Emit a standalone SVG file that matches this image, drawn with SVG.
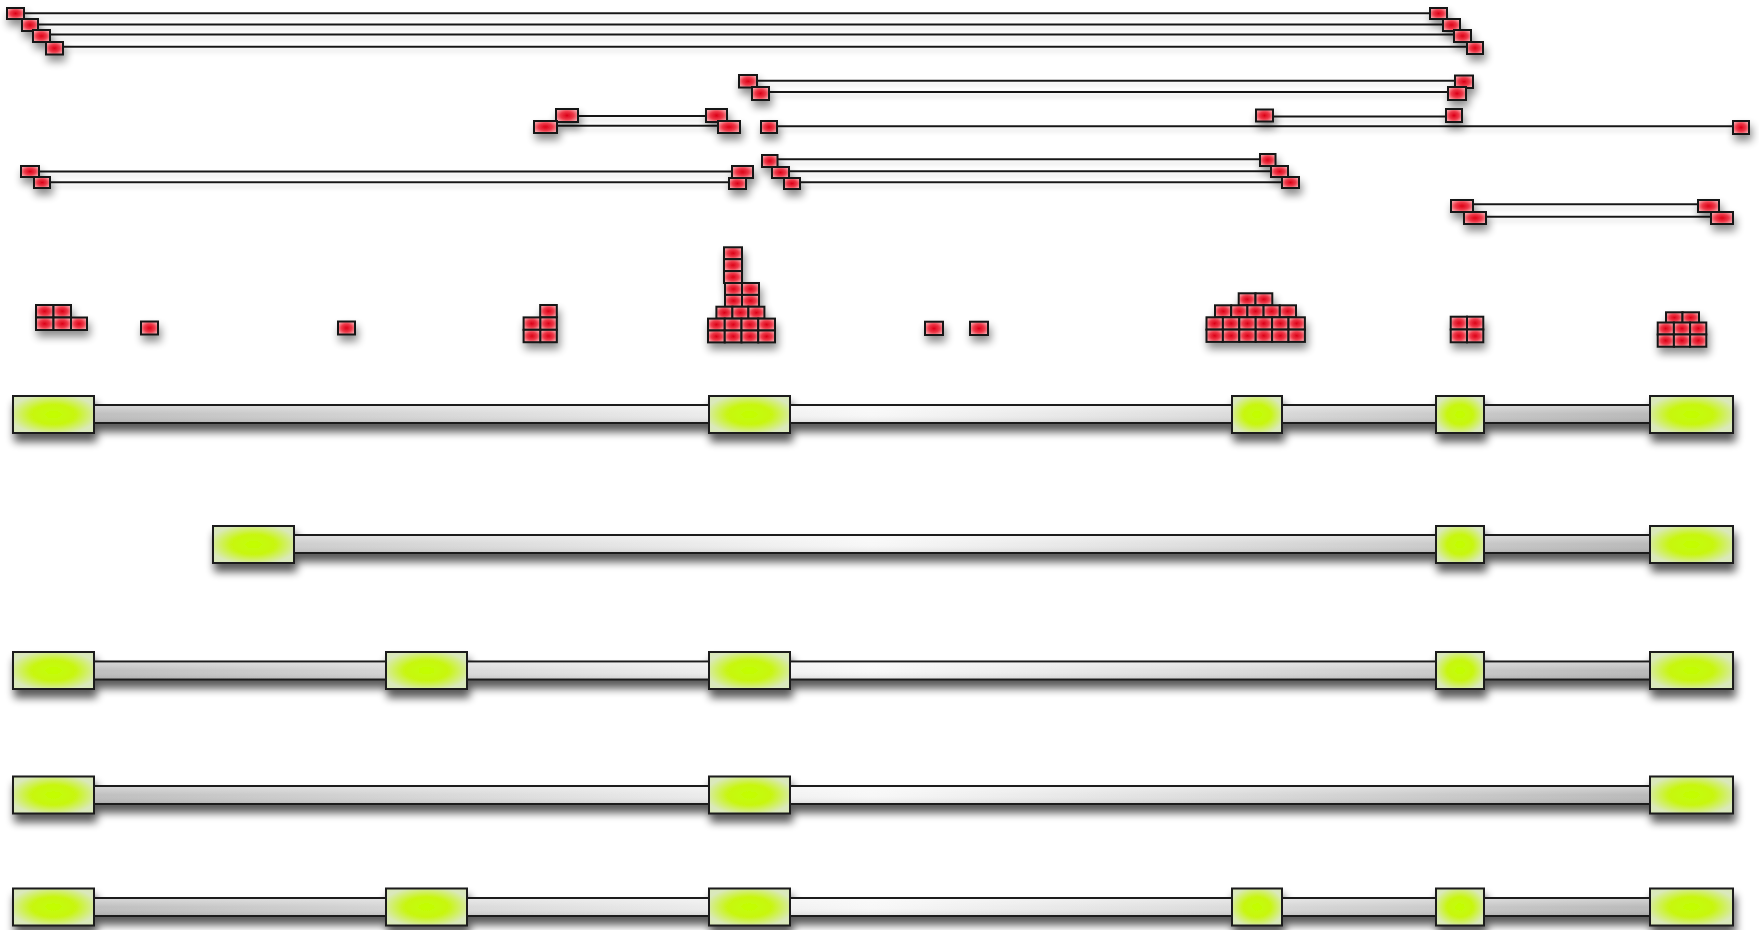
<svg xmlns="http://www.w3.org/2000/svg" width="1759" height="930" viewBox="0 0 1759 930">
<defs>
<radialGradient id="gRed" cx="50%" cy="50%" r="55%">
<stop offset="0" stop-color="#dc0016"/><stop offset="0.55" stop-color="#ee3848"/><stop offset="1" stop-color="#f6a0a6"/>
</radialGradient>
<radialGradient id="gExon" cx="50%" cy="50%" r="55%">
<stop offset="0" stop-color="#c2ff00"/><stop offset="0.5" stop-color="#c8f612"/><stop offset="1" stop-color="#dae8bc"/>
</radialGradient>
<linearGradient id="gBar" gradientUnits="userSpaceOnUse" x1="13" y1="0" x2="1733" y2="0">
<stop offset="0" stop-color="#b9b9b9"/><stop offset="0.5" stop-color="#f8f8f8"/><stop offset="1" stop-color="#b3b3b3"/>
</linearGradient>
<linearGradient id="gBarV" x1="0" y1="0" x2="0" y2="1">
<stop offset="0" stop-color="#ffffff" stop-opacity="0.35"/><stop offset="0.5" stop-color="#ffffff" stop-opacity="0"/><stop offset="1" stop-color="#000000" stop-opacity="0.08"/>
</linearGradient>
<filter id="shBig" x="-5%" y="-50%" width="110%" height="220%">
<feGaussianBlur in="SourceAlpha" stdDeviation="4.5"/>
<feOffset dx="2" dy="8" result="o"/>
<feComponentTransfer><feFuncA type="linear" slope="0.65"/></feComponentTransfer>
<feMerge><feMergeNode/><feMergeNode in="SourceGraphic"/></feMerge>
</filter>
<filter id="shSmall" x="-30%" y="-30%" width="160%" height="180%">
<feGaussianBlur in="SourceAlpha" stdDeviation="4"/>
<feOffset dx="2" dy="6" result="o"/>
<feComponentTransfer><feFuncA type="linear" slope="0.45"/></feComponentTransfer>
<feMerge><feMergeNode/><feMergeNode in="SourceGraphic"/></feMerge>
</filter>
<filter id="shLine" x="-5%" y="-200%" width="110%" height="500%">
<feGaussianBlur in="SourceAlpha" stdDeviation="2.5"/>
<feOffset dx="0" dy="4" result="o"/>
<feComponentTransfer><feFuncA type="linear" slope="0.15"/></feComponentTransfer>
<feMerge><feMergeNode/><feMergeNode in="SourceGraphic"/></feMerge>
</filter>
</defs>
<style>
.j{fill:url(#gRed);stroke:#141414;stroke-width:2}
.c{fill:url(#gRed);stroke:#141414;stroke-width:2}
.ln{stroke:#181818;stroke-width:2;fill:none}
.ex{fill:url(#gExon);stroke:#1a1a1a;stroke-width:2}
.bar{fill:url(#gBar);stroke:#1a1a1a;stroke-width:2}
.barv{fill:url(#gBarV);stroke:none}
</style>
<rect width="1759" height="930" fill="#ffffff"/>

<g id="connectors" filter="url(#shLine)">
<line class="ln" x1="16" y1="13.3" x2="1438" y2="13.3"/>
<line class="ln" x1="30" y1="24.5" x2="1451" y2="24.5"/>
<line class="ln" x1="41" y1="34.5" x2="1462" y2="34.5"/>
<line class="ln" x1="54" y1="46.7" x2="1475" y2="46.7"/>
<line class="ln" x1="748" y1="80.7" x2="1464" y2="80.7"/>
<line class="ln" x1="760" y1="92" x2="1457" y2="92"/>
<line class="ln" x1="567" y1="116" x2="716" y2="116"/>
<line class="ln" x1="1264" y1="116.5" x2="1454" y2="116.5"/>
<line class="ln" x1="545" y1="125.7" x2="729" y2="125.7"/>
<line class="ln" x1="769" y1="126.3" x2="1741" y2="126.3"/>
<line class="ln" x1="769" y1="159.3" x2="1267" y2="159.3"/>
<line class="ln" x1="30" y1="171.5" x2="742" y2="171.5"/>
<line class="ln" x1="780" y1="171.2" x2="1279" y2="171.2"/>
<line class="ln" x1="42" y1="182.3" x2="737" y2="182.3"/>
<line class="ln" x1="792" y1="182.2" x2="1290" y2="182.2"/>
<line class="ln" x1="1462" y1="204.3" x2="1708" y2="204.3"/>
<line class="ln" x1="1475" y1="216.7" x2="1722" y2="216.7"/>
</g>

<g id="junctions" filter="url(#shSmall)">
<g id="jA1"><rect class="j" x="7" y="8" width="17" height="11"/></g>
<g id="jA2"><rect class="j" x="22" y="19" width="16" height="12"/></g>
<g id="jA3"><rect class="j" x="33" y="30" width="17" height="12"/></g>
<g id="jA4"><rect class="j" x="46" y="42" width="17" height="12.5"/></g>
<g id="jB1"><rect class="j" x="1430" y="8" width="17" height="11"/></g>
<g id="jB2"><rect class="j" x="1443" y="19" width="17" height="12"/></g>
<g id="jB3"><rect class="j" x="1454" y="30" width="17" height="12"/></g>
<g id="jB4"><rect class="j" x="1467" y="42" width="16" height="12"/></g>
<g id="jC1"><rect class="j" x="739" y="75" width="18" height="12.5"/></g>
<g id="jC2"><rect class="j" x="752" y="87" width="17" height="13"/></g>
<g id="jB5"><rect class="j" x="1455" y="75.5" width="18" height="12.5"/></g>
<g id="jB6"><rect class="j" x="1448" y="87" width="18" height="13"/></g>
<g id="jC3"><rect class="j" x="556" y="109" width="22" height="13"/></g>
<g id="jC5"><rect class="j" x="706" y="109" width="21" height="13"/></g>
<g id="jE1"><rect class="j" x="1256" y="109.5" width="17" height="12"/></g>
<g id="jB7"><rect class="j" x="1446" y="109" width="16" height="13"/></g>
<g id="jC4"><rect class="j" x="534" y="121" width="23" height="12"/></g>
<g id="jC6"><rect class="j" x="718" y="121" width="22" height="12"/></g>
<g id="jC7"><rect class="j" x="761" y="121" width="16" height="12"/></g>
<g id="jB8"><rect class="j" x="1733" y="121" width="16" height="13"/></g>
<g id="jC8"><rect class="j" x="762" y="155" width="15.5" height="12"/></g>
<g id="jE2"><rect class="j" x="1260" y="154" width="15.5" height="12"/></g>
<g id="jF1"><rect class="j" x="21" y="166" width="18" height="11"/></g>
<g id="jC11"><rect class="j" x="732" y="166" width="21" height="12"/></g>
<g id="jC9"><rect class="j" x="772" y="167" width="17" height="11"/></g>
<g id="jE3"><rect class="j" x="1271" y="166" width="17" height="11"/></g>
<g id="jF2"><rect class="j" x="34" y="177" width="16" height="11"/></g>
<g id="jC12"><rect class="j" x="729" y="178" width="17" height="11"/></g>
<g id="jC10"><rect class="j" x="784" y="178" width="16" height="11"/></g>
<g id="jE4"><rect class="j" x="1282" y="177" width="17" height="11"/></g>
<g id="jD1"><rect class="j" x="1451" y="200" width="22" height="12"/></g>
<g id="jD2"><rect class="j" x="1464" y="212" width="22" height="12"/></g>
<g id="jD3"><rect class="j" x="1698" y="200" width="21" height="12"/></g>
<g id="jD4"><rect class="j" x="1711" y="212" width="22" height="12"/></g>
</g>

<g id="coverage" filter="url(#shSmall)">
<g id="s1">
<rect class="c" x="36" y="305" width="17.5" height="12.5"/><rect class="c" x="53.5" y="305" width="17.5" height="12.5"/>
<rect class="c" x="36" y="317.5" width="17.5" height="12.5"/><rect class="c" x="53.5" y="317.5" width="17.5" height="12.5"/><rect class="c" x="71" y="317.5" width="16" height="12.5"/>
</g>
<g id="s2"><rect class="c" x="141" y="321.5" width="17" height="13"/></g>
<g id="s3"><rect class="c" x="338" y="321.5" width="17" height="13"/></g>
<g id="s4">
<rect class="c" x="540.2" y="305" width="16.6" height="12.4"/><rect class="c" x="540.2" y="317.4" width="16.6" height="12.4"/><rect class="c" x="540.2" y="329.8" width="16.6" height="12.4"/>
<rect class="c" x="523.6" y="317.4" width="16.6" height="12.4"/><rect class="c" x="523.6" y="329.8" width="16.6" height="12.4"/>
</g>
<g id="s5">
<rect class="c" x="724" y="247.3" width="18" height="11.9"/><rect class="c" x="724" y="259.2" width="18" height="11.9"/><rect class="c" x="724" y="271.1" width="18" height="11.9"/>
<rect class="c" x="725" y="283" width="17" height="11.9"/><rect class="c" x="742" y="283" width="17" height="11.9"/>
<rect class="c" x="725" y="294.9" width="17" height="11.9"/><rect class="c" x="742" y="294.9" width="17" height="11.9"/>
<rect class="c" x="716.4" y="306.7" width="16" height="11.9"/><rect class="c" x="732.4" y="306.7" width="16" height="11.9"/><rect class="c" x="748.4" y="306.7" width="16" height="11.9"/>
<rect class="c" x="708" y="318.6" width="16.75" height="11.9"/><rect class="c" x="724.75" y="318.6" width="16.75" height="11.9"/><rect class="c" x="741.5" y="318.6" width="16.75" height="11.9"/><rect class="c" x="758.25" y="318.6" width="16.75" height="11.9"/>
<rect class="c" x="708" y="330.5" width="16.75" height="11.9"/><rect class="c" x="724.75" y="330.5" width="16.75" height="11.9"/><rect class="c" x="741.5" y="330.5" width="16.75" height="11.9"/><rect class="c" x="758.25" y="330.5" width="16.75" height="11.9"/>
</g>
<g id="s6"><rect class="c" x="925" y="321.7" width="18" height="13.3"/></g>
<g id="s7"><rect class="c" x="970" y="321.7" width="18" height="13.3"/></g>
<g id="s8">
<rect class="c" x="1238.7" y="293.3" width="16.8" height="12"/><rect class="c" x="1255.5" y="293.3" width="16.8" height="12"/>
<rect class="c" x="1215" y="305.3" width="16.2" height="12"/><rect class="c" x="1231.2" y="305.3" width="16.2" height="12"/><rect class="c" x="1247.4" y="305.3" width="16.2" height="12"/><rect class="c" x="1263.6" y="305.3" width="16.2" height="12"/><rect class="c" x="1279.8" y="305.3" width="16.2" height="12"/>
<rect class="c" x="1206.5" y="317.3" width="16.4" height="12.3"/><rect class="c" x="1222.9" y="317.3" width="16.4" height="12.3"/><rect class="c" x="1239.3" y="317.3" width="16.4" height="12.3"/><rect class="c" x="1255.7" y="317.3" width="16.4" height="12.3"/><rect class="c" x="1272.1" y="317.3" width="16.4" height="12.3"/><rect class="c" x="1288.5" y="317.3" width="16.4" height="12.3"/>
<rect class="c" x="1206.5" y="329.6" width="16.4" height="12.3"/><rect class="c" x="1222.9" y="329.6" width="16.4" height="12.3"/><rect class="c" x="1239.3" y="329.6" width="16.4" height="12.3"/><rect class="c" x="1255.7" y="329.6" width="16.4" height="12.3"/><rect class="c" x="1272.1" y="329.6" width="16.4" height="12.3"/><rect class="c" x="1288.5" y="329.6" width="16.4" height="12.3"/>
</g>
<g id="s9">
<rect class="c" x="1450.7" y="316.7" width="16.3" height="12.8"/><rect class="c" x="1467" y="316.7" width="16.3" height="12.8"/>
<rect class="c" x="1450.7" y="329.5" width="16.3" height="12.8"/><rect class="c" x="1467" y="329.5" width="16.3" height="12.8"/>
</g>
<g id="s10">
<rect class="c" x="1666" y="312.3" width="16.5" height="10.5"/><rect class="c" x="1682.5" y="312.3" width="16.5" height="10.5"/>
<rect class="c" x="1657.7" y="322.5" width="16.2" height="12"/><rect class="c" x="1673.9" y="322.5" width="16.2" height="12"/><rect class="c" x="1690.1" y="322.5" width="16.2" height="12"/>
<rect class="c" x="1657.7" y="334.5" width="16.2" height="12.2"/><rect class="c" x="1673.9" y="334.5" width="16.2" height="12.2"/><rect class="c" x="1690.1" y="334.5" width="16.2" height="12.2"/>
</g>
</g>

<g id="t1" filter="url(#shBig)">
<rect class="bar" x="13" y="405" width="1720" height="18"/><rect class="barv" x="14" y="406" width="1718" height="16"/>
<rect class="ex" x="13" y="396" width="81" height="37"/>
<rect class="ex" x="709" y="396" width="81" height="37"/>
<rect class="ex" x="1232" y="396" width="50" height="37"/>
<rect class="ex" x="1436" y="396" width="48" height="37"/>
<rect class="ex" x="1650" y="396" width="83" height="37"/>
</g>
<g id="t2" filter="url(#shBig)">
<rect class="bar" x="213" y="535" width="1520" height="18"/><rect class="barv" x="214" y="536" width="1518" height="16"/>
<rect class="ex" x="213" y="526" width="81" height="37"/>
<rect class="ex" x="1436" y="526" width="48" height="37"/>
<rect class="ex" x="1650" y="526" width="83" height="37"/>
</g>
<g id="t3" filter="url(#shBig)">
<rect class="bar" x="13" y="661.5" width="1720" height="18"/><rect class="barv" x="14" y="662.5" width="1718" height="16"/>
<rect class="ex" x="13" y="652" width="81" height="37"/>
<rect class="ex" x="386" y="652" width="81" height="37"/>
<rect class="ex" x="709" y="652" width="81" height="37"/>
<rect class="ex" x="1436" y="652" width="48" height="37"/>
<rect class="ex" x="1650" y="652" width="83" height="37"/>
</g>
<g id="t4" filter="url(#shBig)">
<rect class="bar" x="13" y="786" width="1720" height="18"/><rect class="barv" x="14" y="787" width="1718" height="16"/>
<rect class="ex" x="13" y="776.5" width="81" height="37"/>
<rect class="ex" x="709" y="776.5" width="81" height="37"/>
<rect class="ex" x="1650" y="776.5" width="83" height="37"/>
</g>
<g id="t5" filter="url(#shBig)">
<rect class="bar" x="13" y="898" width="1720" height="18"/><rect class="barv" x="14" y="899" width="1718" height="16"/>
<rect class="ex" x="13" y="888.5" width="81" height="37"/>
<rect class="ex" x="386" y="888.5" width="81" height="37"/>
<rect class="ex" x="709" y="888.5" width="81" height="37"/>
<rect class="ex" x="1232" y="888.5" width="50" height="37"/>
<rect class="ex" x="1436" y="888.5" width="48" height="37"/>
<rect class="ex" x="1650" y="888.5" width="83" height="37"/>
</g>
</svg>
